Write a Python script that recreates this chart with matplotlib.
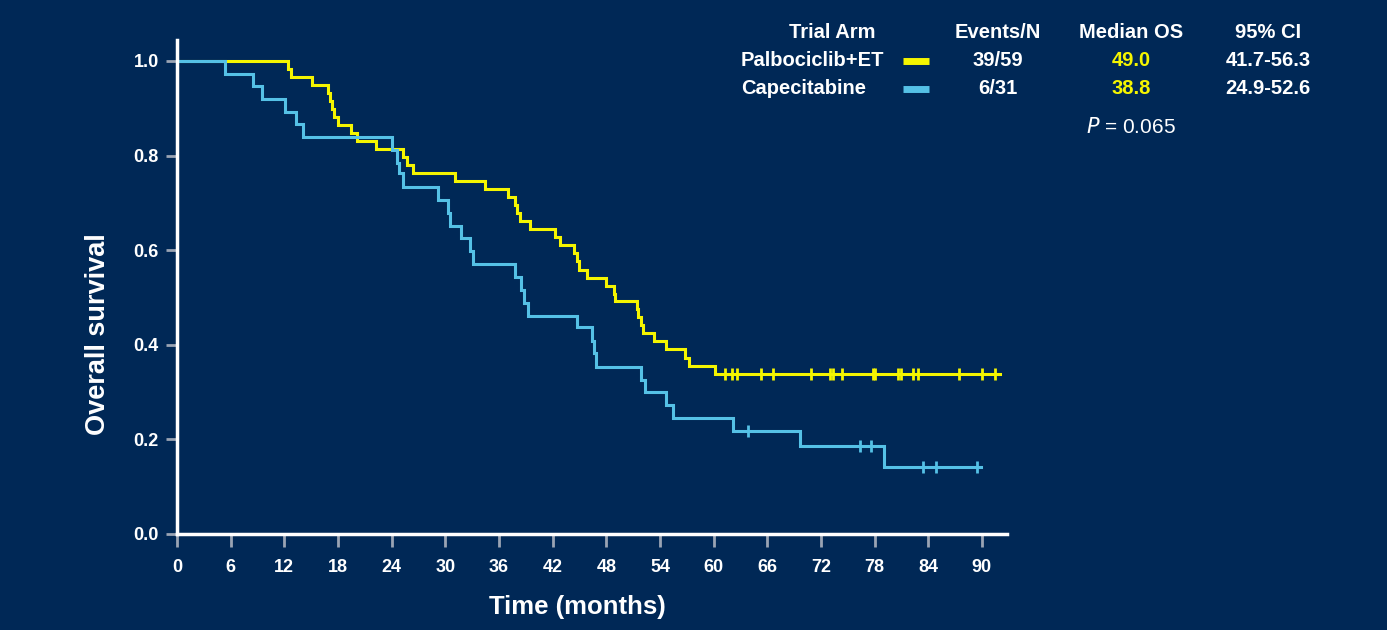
import matplotlib
matplotlib.use('Agg')
import matplotlib.pyplot as plt
from matplotlib.lines import Line2D
import numpy as np

plt.rcParams['font.family'] = ['Liberation Sans', 'DejaVu Sans']

bg = '#002856'
yellow = '#F5F500'
blue = '#55C1E6'

# %% data
# Palbociclib+ET
palbo_t = [0, 12.4, 12.8, 15.1, 16.9, 17.1, 17.3, 17.6, 18.0, 19.5, 20.1, 22.2,
           25.3, 25.7, 26.4, 31.1, 34.4, 37.0, 37.8, 38.0, 38.3, 39.5,
           42.3, 42.8, 44.4, 44.7, 45.0, 45.8, 48.0, 48.9, 49.0,
           51.4, 51.6, 51.9, 52.1, 53.3, 54.7, 56.8, 57.2, 60.2, 92.0]
palbo_s = [1.0, 0.983, 0.966, 0.949, 0.932, 0.915, 0.898, 0.881, 0.864, 0.848, 0.831, 0.814,
           0.797, 0.780, 0.763, 0.746, 0.729, 0.712, 0.695, 0.678, 0.661, 0.644,
           0.627, 0.610, 0.593, 0.576, 0.559, 0.542, 0.525, 0.508, 0.492,
           0.475, 0.458, 0.441, 0.424, 0.407, 0.390, 0.373, 0.356, 0.339, 0.339]
palbo_cens = [61.3, 62.1, 62.6, 65.3, 66.6, 70.9, 73.0, 73.4, 74.4, 77.8, 78.1,
              80.6, 81.0, 82.3, 82.9, 87.4, 90.0, 91.5]

# Capecitabine
cape_t = [0, 5.4, 8.5, 9.5, 12.1, 13.3, 14.1, 24.0, 24.6, 24.8, 25.3,
          29.2, 30.3, 30.5, 31.8, 32.8, 33.1, 37.8, 38.5, 38.8, 39.2,
          44.7, 46.4, 46.6, 46.8, 51.9, 52.3, 54.7, 55.5, 62.2, 69.7, 79.1, 89.9]
cape_s = [1.0, 0.973, 0.946, 0.919, 0.892, 0.866, 0.839, 0.812, 0.785, 0.762, 0.733,
          0.706, 0.678, 0.651, 0.625, 0.599, 0.571, 0.543, 0.516, 0.489, 0.461,
          0.437, 0.407, 0.382, 0.354, 0.326, 0.301, 0.273, 0.245, 0.218, 0.187, 0.141, 0.141]
cape_cens = [63.9, 76.4, 77.6, 83.4, 84.9, 89.4]

arms = ['Palbociclib+ET', 'Capecitabine']
events_n = ['39/59', '6/31']
median_os = ['49.0', '38.8']
ci95 = ['41.7-56.3', '24.9-52.6']
p_value = '0.065'

x_ticks = np.arange(0, 91, 6)
y_ticks = [0.0, 0.2, 0.4, 0.6, 0.8, 1.0]


def surv_at(tt, ts, ss):
    idx = np.searchsorted(ts, tt, side='right') - 1
    return np.asarray(ss)[idx]


# %%
fig = plt.figure(figsize=(13.87, 6.3), dpi=100, facecolor=bg)
ax = fig.add_axes([0.1276, 0.1524, 0.5984, 0.784], facecolor=bg)

for ts, ss, cc, col in [(palbo_t, palbo_s, palbo_cens, yellow),
                        (cape_t, cape_s, cape_cens, blue)]:
    ax.step(ts, ss, where='post', color=col, lw=2.2, solid_joinstyle='miter')
    ax.plot(cc, surv_at(cc, ts, ss), ls='none', marker='|', ms=9, mew=2, color=col)

ax.set_xlim(0, 92.8)
ax.set_ylim(0, 1.044)
ax.set_xticks(x_ticks)
ax.set_yticks(y_ticks)
ax.set_xticklabels([str(v) for v in x_ticks], fontweight='bold', fontsize=13, color='white')
ax.set_yticklabels(['%.1f' % v for v in y_ticks], fontweight='bold', fontsize=13, color='white')
ax.tick_params(axis='x', direction='out', length=9, width=2, color='#9AA4B4', pad=9)
ax.tick_params(axis='y', direction='out', length=8, width=2, color='#9AA4B4', pad=5)

for side in ['top', 'right']:
    ax.spines[side].set_visible(False)
for side in ['left', 'bottom']:
    ax.spines[side].set_color('white')
    ax.spines[side].set_linewidth(2.5)

W, H = 1387.0, 630.0
ax.set_xlabel('Time (months)', fontsize=18.5, fontweight='bold', color='white')
ax.set_ylabel('Overall survival', fontsize=19.5, fontweight='bold', color='white')
# label centres as in the slide (not centred on the axes)
ax.xaxis.set_label_coords((577 - 177) / 830.0, -(607 - 534) / 494.0)
ax.yaxis.set_label_coords(-(177 - 98) / 830.0, (534 - 334) / 494.0)
ax.xaxis.label.set_va('center')
ax.yaxis.label.set_va('center')


# %% legend table
def fx(px):
    return px / W


def fy(py):
    return 1 - py / H


hdr = dict(fontsize=14.5, fontweight='bold', color='white', va='center')
fig.text(fx(832), fy(32), 'Trial Arm', ha='center', **hdr)
fig.text(fx(998), fy(32), 'Events/N', ha='center', **hdr)
fig.text(fx(1131), fy(32), 'Median OS', ha='center', **hdr)
fig.text(fx(1268), fy(32), '95% CI', ha='center', **hdr)

for i, (arm, col) in enumerate(zip(arms, [yellow, blue])):
    yy = fy(61 + 28 * i)
    fig.text(fx(741), yy, arm, ha='left', **hdr)
    fig.add_artist(Line2D([fx(903), fx(929)], [yy, yy], color=col, lw=5, solid_capstyle='butt'))
    fig.text(fx(998), yy, events_n[i], ha='center', **hdr)
    fig.text(fx(1131), yy, median_os[i], ha='center', fontsize=14.5, fontweight='bold',
             color=yellow, va='center')
    fig.text(fx(1268), yy, ci95[i], ha='center', **hdr)

fig.text(fx(1131), fy(127), r'$P$' + ' = ' + p_value, ha='center', va='center',
         fontsize=15, color='white')

plt.savefig('out.png', dpi=100, facecolor=bg)
